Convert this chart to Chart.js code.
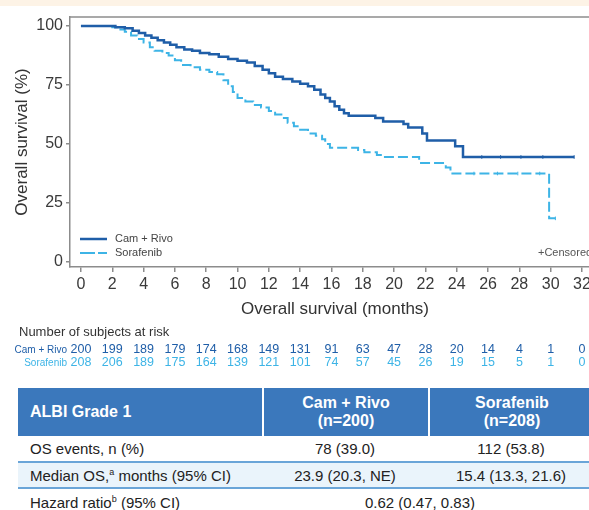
<!DOCTYPE html>
<html>
<head>
<meta charset="utf-8">
<script src="https://cdn.jsdelivr.net/npm/chart.js@4/dist/chart.umd.min.js"></script>
<style>
html,body{margin:0;padding:0;background:#fff;}
body{width:589px;height:510px;overflow:hidden;position:relative;font-family:"Liberation Sans",Arial,sans-serif;}
#band{position:absolute;left:0;top:0;width:589px;height:6px;background:#fdf3e6;}
#wrap{position:absolute;left:0;top:0;width:620px;height:380px;}
#tbl{position:absolute;left:18px;top:388px;width:640px;}
.row{display:flex;box-sizing:border-box;}
.hdr{background:#3b78bc;color:#fff;font-weight:bold;font-size:16px;height:48px;}
.cell{box-sizing:border-box;display:flex;align-items:center;white-space:pre;}
.c1{width:244px;padding-left:12px;}
.c2{width:166px;justify-content:center;text-align:center;}
.c3{width:166px;justify-content:center;text-align:center;}
.hdr .c2,.hdr .c3{border-left:2px solid #fff;line-height:18px;}
.body{font-size:15px;color:#222;}
.r1{height:25px;background:#fff;}
.r2{height:28px;background:#eaf4fb;border-top:2px solid #6aa5d8;border-bottom:2px solid #6aa5d8;}
.r3{height:26px;background:#fff;}
.span{width:316px;justify-content:center;}
sup{font-size:9px;vertical-align:6px;line-height:0;}
</style>
</head>
<body>
<div id="band"></div>
<div id="wrap"><canvas id="c" width="620" height="380"></canvas></div>
<div id="tbl"></div>
<script>
// ---------- data ----------
const seriesNames = ['Cam + Rivo', 'Sorafenib'];
const camMonths = [0, 2.2, 2.8, 3.3, 3.7, 4.1, 4.5, 4.9, 5.3, 5.7, 6.1, 6.6, 7.1, 7.6, 8.2, 8.8, 9.4, 10.0, 10.6, 11.1, 11.6, 12.0, 12.4, 12.9, 13.5, 14.0, 14.5, 14.9, 15.3, 15.6, 15.9, 16.2, 16.5, 16.8, 17.1, 18.8, 19.3, 20.6, 20.9, 21.8, 22.1, 23.9, 24.4, 31.5];
const camSurv   = [100, 99.5, 99, 98, 97, 96, 95, 94, 93, 92, 91, 90, 89.5, 88.5, 88, 87, 86, 85.3, 84.5, 83, 81.5, 80, 78.5, 77.5, 76.5, 75.5, 74.5, 73, 71, 69.5, 68, 66, 64.5, 63, 62, 61, 59.5, 58.5, 57, 54.5, 51.5, 49, 44.5, 44.5];
const sorMonths = [0, 2.0, 2.4, 2.8, 3.2, 3.6, 4.0, 4.4, 4.7, 5.2, 5.6, 6.0, 6.4, 7.0, 7.6, 8.2, 8.7, 9.1, 9.4, 9.7, 10.0, 10.5, 11.0, 11.5, 12.0, 12.4, 12.8, 13.2, 13.6, 14.0, 14.5, 15.0, 15.4, 15.6, 15.9, 17.7, 18.1, 18.9, 19.3, 21.6, 23.3, 23.6, 29.9, 30.3];
const sorSurv   = [100, 99.5, 98.5, 97.5, 96, 94.5, 93, 91, 89.5, 88.5, 87.5, 85.5, 83.5, 82.5, 81.5, 80.5, 79.5, 77, 74.5, 72, 69.5, 68, 66.5, 65.5, 64, 62.5, 61, 59, 57.5, 56, 54.5, 53.5, 52, 50, 48.4, 47.5, 46.5, 45.3, 44.5, 42, 40, 37.5, 18.5, 18.5];
const camCensorMonths = [25.6, 26.8, 28.1, 29.5, 31.5];
const camCensorSurv   = [44.5, 44.5, 44.5, 44.5, 44.5];
const sorCensorMonths = [25.1, 26.6, 27.9, 29.3, 30.3];
const sorCensorSurv   = [37.5, 37.5, 37.5, 37.5, 18.5];
const xTicks = [0, 2, 4, 6, 8, 10, 12, 14, 16, 18, 20, 22, 24, 26, 28, 30, 32];
const yTicks = [0, 25, 50, 75, 100];
const atRiskMonths = [0, 2, 4, 6, 8, 10, 12, 14, 16, 18, 20, 22, 24, 26, 28, 30, 32];
const atRiskCam = [200, 199, 189, 179, 174, 168, 149, 131, 91, 63, 47, 28, 20, 14, 4, 1, 0];
const atRiskSor = [208, 206, 189, 175, 164, 139, 121, 101, 74, 57, 45, 26, 19, 15, 5, 1, 0];
const tableTitle = 'ALBI Grade 1';
const armHeaders = [['Cam + Rivo', '(n=200)'], ['Sorafenib', '(n=208)']];
const rowLabels = ['OS events, n (%)', 'Median OS,<sup>a</sup> months (95% CI)', 'Hazard ratio<sup>b</sup> (95% CI)'];
const camValues = ['78 (39.0)', '23.9 (20.3, NE)'];
const sorValues = ['112 (53.8)', '15.4 (13.3, 21.6)'];
const hazardRatio = '0.62 (0.47, 0.83)';

// ---------- styles ----------
const DARK = '#1f5ea8';
const LIGHT = '#3db4e6';
const AXIS = '#8c8c8c';
const FONT = "'Liberation Sans', Arial, sans-serif";
Chart.defaults.font.family = FONT;

const pts = (t, s) => t.map((v, i) => ({x: v, y: s[i]}));

const overlay = {
  id: 'overlay',
  afterDraw(chart) {
    const {ctx, chartArea, scales} = chart;
    ctx.save();
    ctx.strokeStyle = AXIS; ctx.lineWidth = 1.5;
    ctx.beginPath(); ctx.moveTo(chartArea.left, chartArea.top); ctx.lineTo(chartArea.right, chartArea.top); ctx.stroke();
    const ds = chart.data.datasets;
    [[0, 239], [1, 253]].forEach(([i, y]) => {
      ctx.strokeStyle = ds[i].borderColor;
      ctx.lineWidth = ds[i].borderWidth;
      ctx.setLineDash(i === 1 ? [15, 3] : []);
      ctx.beginPath(); ctx.moveTo(80, y); ctx.lineTo(107, y); ctx.stroke();
      ctx.setLineDash([]);
      ctx.fillStyle = '#444'; ctx.font = '11px ' + FONT;
      ctx.textAlign = 'left'; ctx.textBaseline = 'middle';
      ctx.fillText(seriesNames[i], 115, y);
    });
    ctx.fillStyle = '#555'; ctx.font = '11px ' + FONT;
    ctx.fillText('+Censored', 538, 253);
    ctx.fillStyle = '#333'; ctx.font = '13px ' + FONT;
    ctx.textAlign = 'left';
    ctx.fillText('Number of subjects at risk', 19, 332);
    const rows = [[atRiskCam, DARK, 350, 0], [atRiskSor, LIGHT, 363, 1]];
    rows.forEach(([vals, col, y, i]) => {
      ctx.fillStyle = col;
      ctx.font = '10px ' + FONT; ctx.textAlign = 'right';
      ctx.fillText(seriesNames[i], 67, y);
      ctx.font = '12.5px ' + FONT; ctx.textAlign = 'center';
      vals.forEach((v, k) => ctx.fillText(String(v), scales.x.getPixelForValue(atRiskMonths[k]), y));
    });
    ctx.restore();
  }
};

new Chart(document.getElementById('c'), {
  type: 'line',
  data: {
    datasets: [
      {label: seriesNames[0], data: pts(camMonths, camSurv), borderColor: DARK, borderWidth: 2.5, stepped: 'before', pointRadius: 0, fill: false},
      {label: seriesNames[1], data: pts(sorMonths, sorSurv), borderColor: LIGHT, borderWidth: 2, borderDash: [10, 4], stepped: 'before', pointRadius: 0, fill: false},
      {type: 'scatter', label: 'cens1', data: pts(camCensorMonths, camCensorSurv), pointStyle: 'line', rotation: 90, pointRadius: 1.8, borderColor: DARK, backgroundColor: DARK, borderWidth: 1},
      {type: 'scatter', label: 'cens2', data: pts(sorCensorMonths, sorCensorSurv), pointStyle: 'line', rotation: 90, pointRadius: 1.8, borderColor: LIGHT, backgroundColor: LIGHT, borderWidth: 1}
    ]
  },
  options: {
    responsive: false,
    maintainAspectRatio: false,
    animation: false,
    events: [],
    layout: {padding: {top: 17, right: 20, bottom: 53, left: 0}},
    plugins: {legend: {display: false}, tooltip: {enabled: false}},
    scales: {
      x: {
        type: 'linear', min: -0.7, max: 33.15,
        afterBuildTicks: a => { a.ticks = xTicks.map(v => ({value: v})); },
        afterFit: a => { a.height = 60; },
        grid: {drawOnChartArea: false, drawTicks: true, tickLength: 5, color: AXIS, lineWidth: 1.5},
        border: {display: true, color: AXIS, width: 1.5},
        ticks: {font: {size: 16}, color: '#3a3a3a', padding: 3, maxRotation: 0, autoSkip: false},
        title: {display: true, text: 'Overall survival (months)', font: {size: 17}, color: '#333', padding: {top: 0, bottom: 7}}
      },
      y: {
        type: 'linear', min: -2.1, max: 103.8,
        afterBuildTicks: a => { a.ticks = yTicks.map(v => ({value: v})); },
        afterFit: a => { a.width = 70; },
        grid: {drawOnChartArea: false, drawTicks: true, tickLength: 4, color: AXIS, lineWidth: 1.5},
        border: {display: true, color: AXIS, width: 1.5},
        ticks: {font: {size: 16}, color: '#3a3a3a', padding: 3},
        title: {display: true, text: 'Overall survival (%)', font: {size: 17}, color: '#333', padding: {top: 12, bottom: 0}}
      }
    }
  },
  plugins: [overlay]
});

// ---------- table ----------
const tbl = document.getElementById('tbl');
const lbl = s => '<span>' + s + '</span>';
let html = '<div class="row hdr"><div class="cell c1">' + tableTitle + '</div>';
armHeaders.forEach((h, i) => { html += '<div class="cell c' + (i + 2) + '"><span>' + h[0] + '<br>' + h[1] + '</span></div>'; });
html += '</div>';
html += '<div class="row body r1"><div class="cell c1">' + lbl(rowLabels[0]) + '</div><div class="cell c2">' + camValues[0] + '</div><div class="cell c3">' + sorValues[0] + '</div></div>';
html += '<div class="row body r2"><div class="cell c1">' + lbl(rowLabels[1]) + '</div><div class="cell c2">' + camValues[1] + '</div><div class="cell c3">' + sorValues[1] + '</div></div>';
html += '<div class="row body r3"><div class="cell c1">' + lbl(rowLabels[2]) + '</div><div class="cell span">' + hazardRatio + '</div></div>';
tbl.innerHTML = html;
</script>
</body>
</html>
